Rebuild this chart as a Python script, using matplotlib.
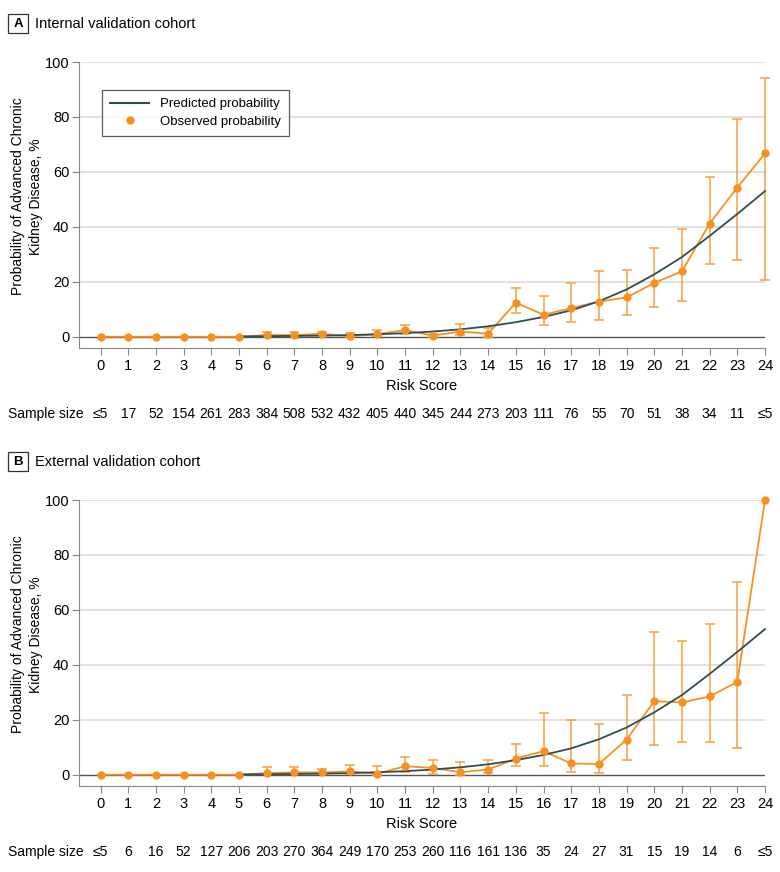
import numpy as np
import matplotlib
matplotlib.use("Agg")
import matplotlib.pyplot as plt
from matplotlib.lines import Line2D
from matplotlib.patches import Rectangle

plt.rcParams["font.family"] = ["Liberation Sans", "DejaVu Sans"]

scores = list(range(25))

# predicted probability (same model curve in both panels), from score 5
pred_x = [5, 6, 7, 8, 9, 10, 11, 12, 13, 14, 15, 16, 17, 18, 19, 20, 21, 22, 23, 24]
pred_y = [0.1, 0.2, 0.3, 0.4, 0.6, 0.9, 1.3, 1.9, 2.7, 3.8, 5.3, 7.2, 9.6, 12.9, 17.2,
          22.7, 29.0, 36.7, 44.7, 53.0]

obs_a = [0, 0, 0, 0, 0, 0, 0.6, 0.6, 1.1, 0.1, 1.0, 2.4, 0.4, 1.9, 1.1, 12.4, 8.0,
         10.4, 12.8, 14.3, 19.6, 23.8, 41.2, 54.3, 66.7]
low_a = [0, 0, 0, 0, 0, 0, 0.1, 0.1, 0.4, 0.0, 0.2, 1.0, 0.0, 0.7, 0.0, 8.6, 4.2,
         5.3, 6.2, 8.0, 10.9, 13.0, 26.4, 28.0, 20.8]
up_a = [0, 0, 0, 0, 0, 0, 1.8, 1.8, 1.9, 1.3, 2.4, 4.2, 1.0, 4.7, 3.3, 17.6, 14.7,
        19.5, 23.9, 24.2, 32.4, 39.1, 58.2, 79.2, 94.0]
n_a = ["≤5", "17", "52", "154", "261", "283", "384", "508", "532", "432", "405", "440",
       "345", "244", "273", "203", "111", "76", "55", "70", "51", "38", "34", "11", "≤5"]

obs_b = [0, 0, 0, 0, 0, 0, 0.6, 0.85, 0.85, 1.2, 0.4, 3.1, 2.5, 0.9, 1.9, 5.9, 8.6,
         4.1, 3.9, 12.8, 26.8, 26.3, 28.5, 33.8, 100]
low_b = [0, 0, 0, 0, 0, 0, 0.1, 0.2, 0.2, 0.3, 0.0, 0.9, 0.4, 0.0, 0.5, 3.2, 3.2,
         0.9, 0.7, 5.2, 11.0, 11.8, 11.8, 9.8, 100]
up_b = [0, 0, 0, 0, 0, 0, 2.7, 2.7, 2.2, 3.5, 3.1, 6.3, 5.3, 4.6, 5.3, 11.2, 22.4,
        20.1, 18.4, 29.0, 51.9, 48.6, 55.0, 70.1, 100]
n_b = ["≤5", "6", "16", "52", "127", "206", "203", "270", "364", "249", "170", "253",
       "260", "116", "161", "136", "35", "24", "27", "31", "15", "19", "14", "6", "≤5"]

ORANGE = "#F7901E"
ERR = "#F5A142"
DARK = "#2E4D55"

fig = plt.figure(figsize=(7.8, 8.72), dpi=100)


def panel(rect, letter, title, obs, low, up, sizes, legend):
    ax = fig.add_axes(rect)
    obs = np.array(obs)
    yerr = np.array([obs - np.array(low), np.array(up) - obs])
    mask = np.array(up) - np.array(low) > 0
    x = np.array(scores)

    for v in [20, 40, 60, 80, 100]:
        ax.axhline(v, color="#DCDCDC", lw=1.2, zorder=0)
    ax.axhline(0, color="#555555", lw=1.0, zorder=1)

    ax.errorbar(x[mask], obs[mask], yerr=yerr[:, mask], fmt="none", ecolor=ERR,
                elinewidth=1.1, capsize=3.5, capthick=1.1, zorder=2, clip_on=False)
    ax.plot(x, obs, color=ORANGE, lw=1.3, zorder=3, clip_on=False)
    ax.plot(pred_x, pred_y, color=DARK, lw=1.3, zorder=4, clip_on=False)
    ax.plot(x, obs, "o", color=ORANGE, ms=6, mec="none", zorder=5, clip_on=False)

    ax.set_xlim(-0.78, 24)
    ax.set_ylim(-4.1, 100)
    ax.set_xticks(scores)
    ax.set_yticks([0, 20, 40, 60, 80, 100])
    ax.tick_params(labelsize=10.5, length=5, color="#888888", pad=3)
    ax.tick_params(axis="y", pad=2)
    for s in ["top", "right"]:
        ax.spines[s].set_visible(False)
    for s in ["left", "bottom"]:
        ax.spines[s].set_color("#888888")
    ax.set_xlabel("Risk Score", fontsize=10.5, labelpad=4)
    ax.set_ylabel("Probability of Advanced Chronic\nKidney Disease, %", fontsize=10,
                  linespacing=1.3)
    ax.yaxis.set_label_coords(-0.053, 0.53)

    # sample size row
    ty = ax.get_position().y0 - 66 / 872
    fig.text(8 / 780, ty, "Sample size", fontsize=10, va="center")
    tr = matplotlib.transforms.blended_transform_factory(ax.transData, fig.transFigure)
    for xi, s in zip(scores, sizes):
        ax.text(xi, ty, s, transform=tr, fontsize=10, ha="center", va="center")

    # panel header
    top = ax.get_position().y1
    hy = top + 38 / 872
    fig.patches.append(Rectangle((8 / 780, hy - 9.5 / 872), 20 / 780, 19 / 872,
                                 transform=fig.transFigure, fill=False,
                                 ec="#333333", lw=0.9))
    fig.text(18 / 780, hy, letter, fontsize=9.5, fontweight="bold",
             ha="center", va="center")
    fig.text(35 / 780, hy, title, fontsize=10.5, va="center")

    if legend:
        handles = [Line2D([], [], color=DARK, lw=1.5),
                   Line2D([], [], marker="o", color=ORANGE, ls="none", ms=6,
                          mec="none")]
        leg = ax.legend(handles, ["Predicted probability", "Observed probability"],
                        loc="upper left", bbox_to_anchor=(0.0335, 0.902), fontsize=9.5,
                        frameon=True, fancybox=False, handlelength=3.0,
                        borderpad=0.6, labelspacing=0.4, borderaxespad=0)
        leg.get_frame().set_edgecolor("#333333")
        leg.get_frame().set_linewidth(0.9)
    return ax


panel([79 / 780, 1 - 348 / 872, 686 / 780, 286 / 872], "A",
      "Internal validation cohort", obs_a, low_a, up_a, n_a, True)
panel([79 / 780, 1 - 786 / 872, 686 / 780, 286 / 872], "B",
      "External validation cohort", obs_b, low_b, up_b, n_b, False)

fig.savefig("out.png", dpi=100)
